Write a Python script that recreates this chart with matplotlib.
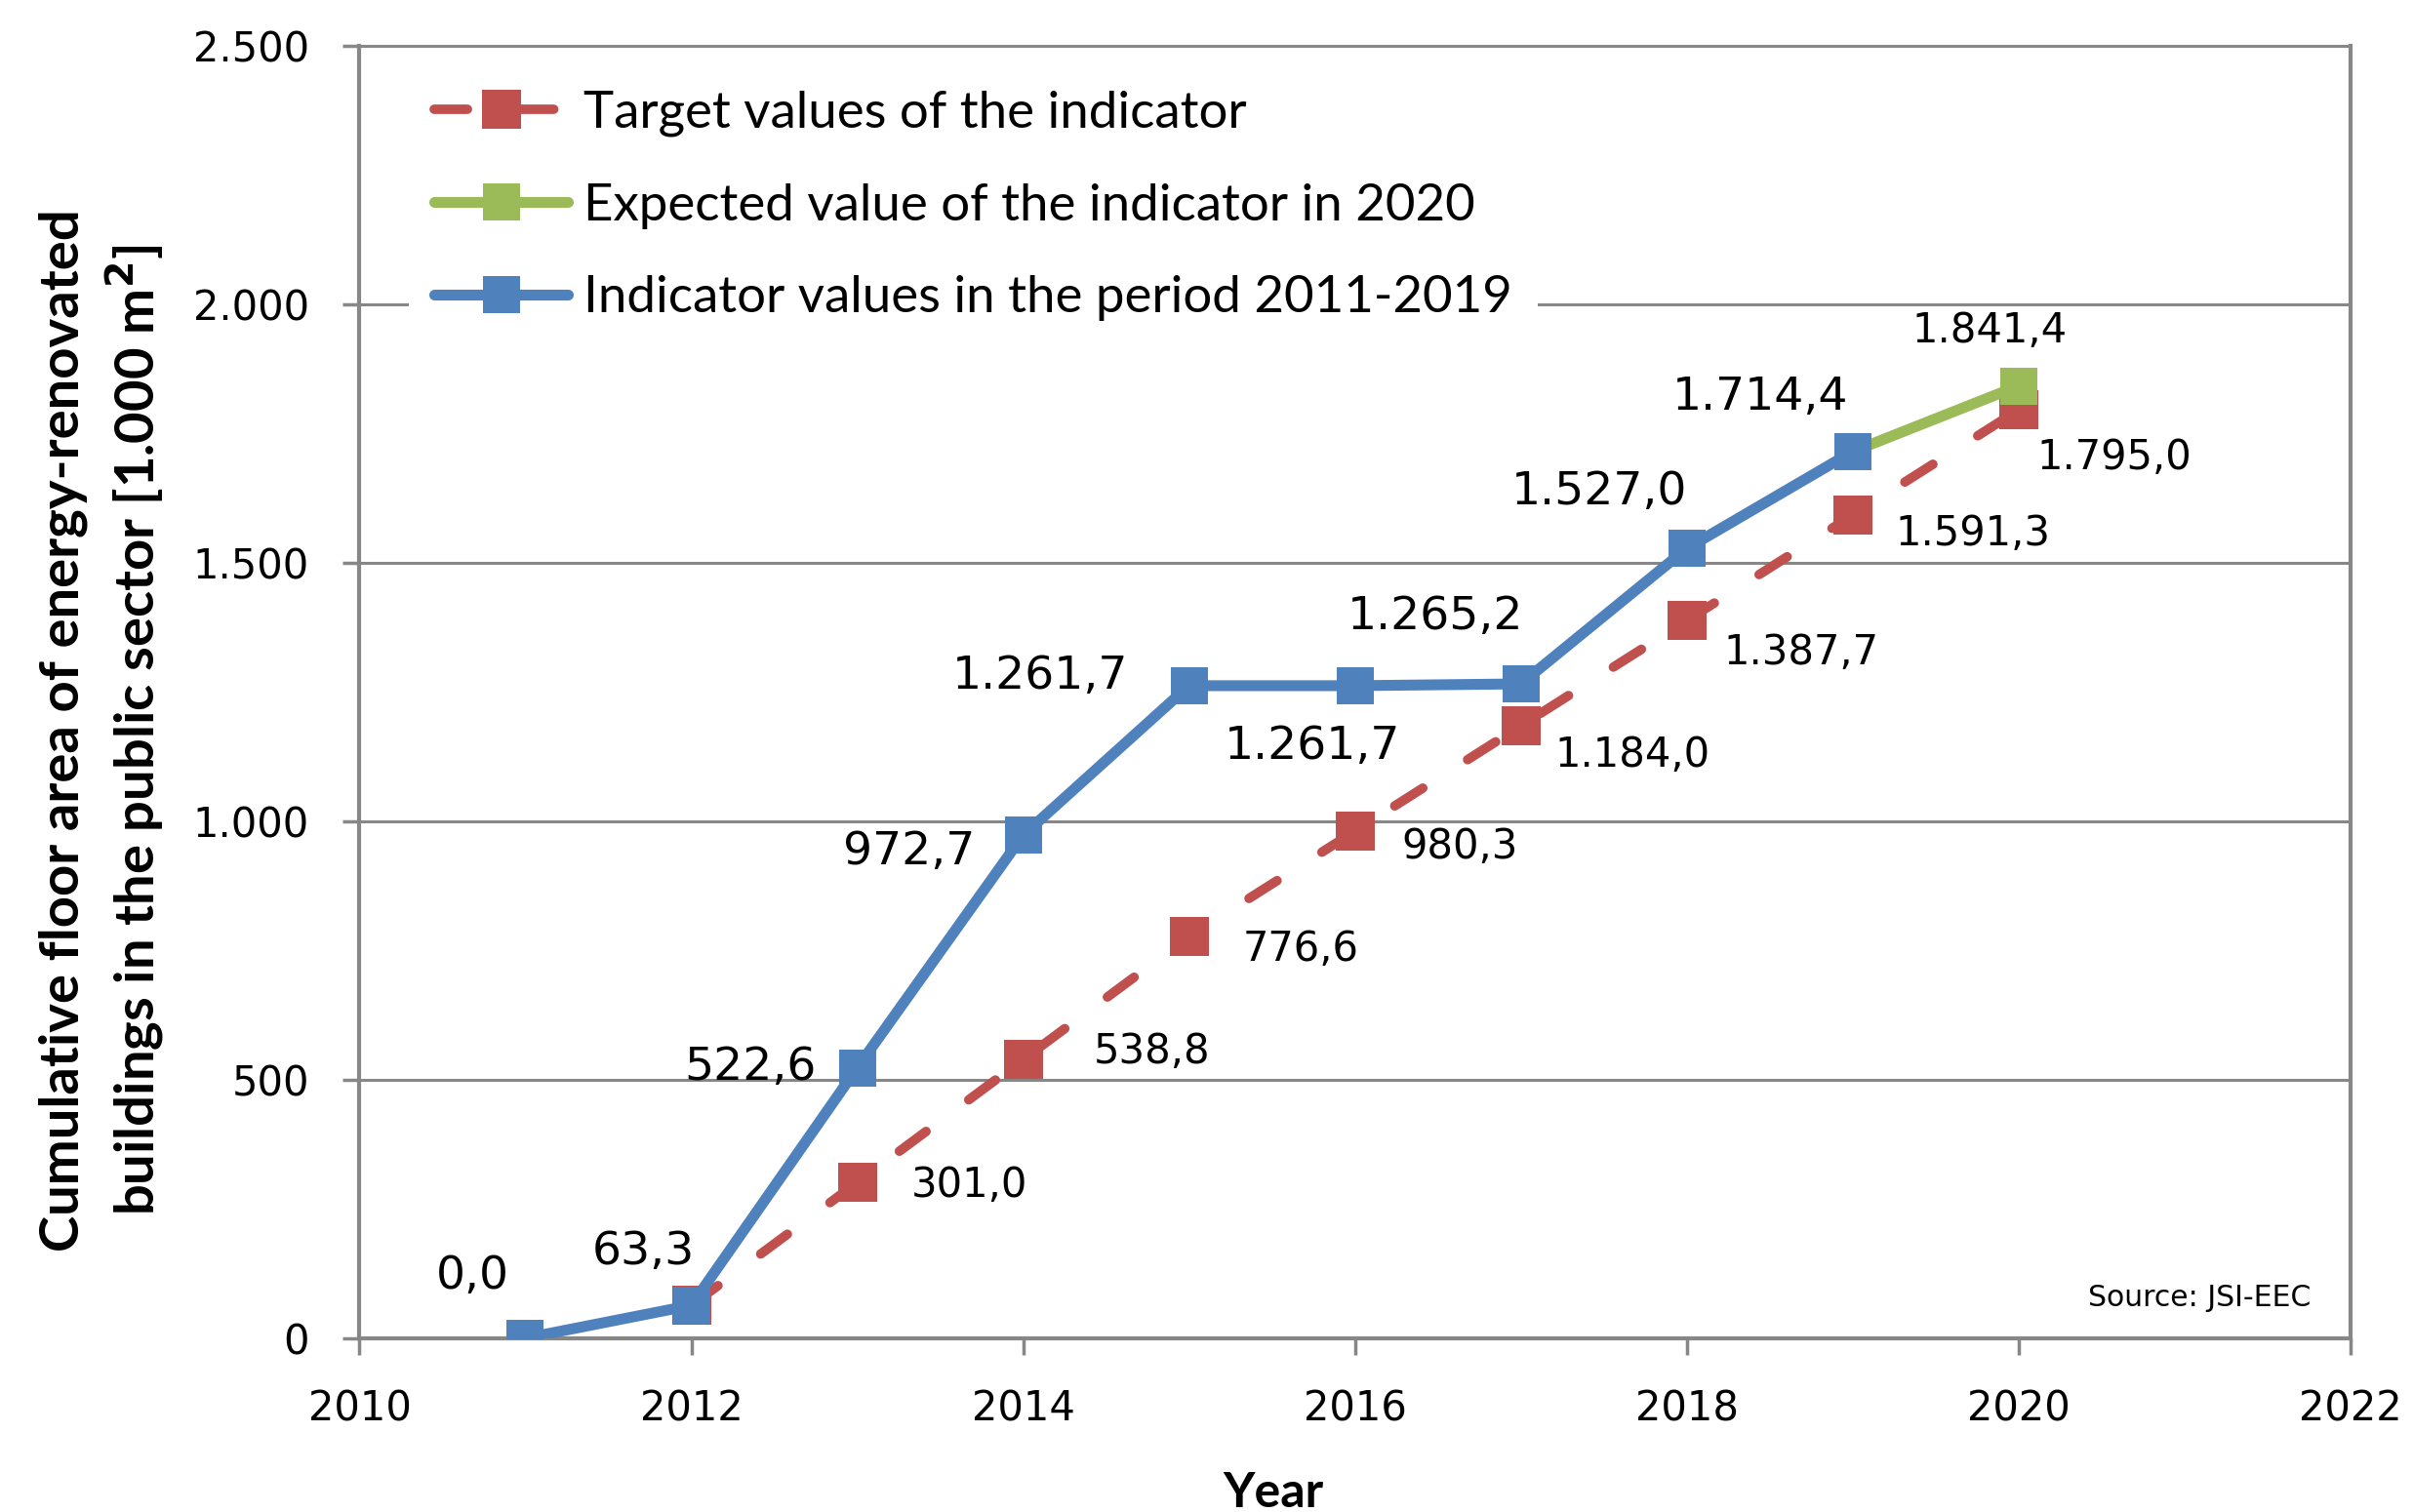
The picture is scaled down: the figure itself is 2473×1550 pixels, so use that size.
import matplotlib
matplotlib.use("Agg")
import matplotlib.pyplot as plt

# ---- data ----
years_actual = [2011, 2012, 2013, 2014, 2015, 2016, 2017, 2018, 2019]
values_actual = [0.0, 63.3, 522.6, 972.7, 1261.7, 1261.7, 1265.2, 1527.0, 1714.4]
years_target = [2012, 2013, 2014, 2015, 2016, 2017, 2018, 2019, 2020]
values_target = [63.3, 301.0, 538.8, 776.6, 980.3, 1184.0, 1387.7, 1591.3, 1795.0]
years_expected = [2019, 2020]
values_expected = [1714.4, 1841.4]

legend_labels = ["Target values of the indicator",
                 "Expected value of the indicator in 2020",
                 "Indicator values in the period 2011-2019"]
x_ticks = [2010, 2012, 2014, 2016, 2018, 2020, 2022]
y_ticks = [0, 500, 1000, 1500, 2000, 2500]

BLUE = "#4F81BD"
RED = "#C0504D"
GREEN = "#9BBB59"
GRID = "#878787"


def eu(v, dec=1):
    s = f"{v:,.{dec}f}"
    return s.replace(",", "X").replace(".", ",").replace("X", ".")


fig = plt.figure(figsize=(24.73, 15.5), dpi=100)
ax = fig.add_axes([0.149, 0.115, 0.825, 0.855])

ax.plot(years_target, values_target, color=RED, lw=7, ls=(0, (3.5, 5.6)),
        dash_capstyle="round", marker="s", ms=29, mew=0, mfc=RED, zorder=3,
        label=legend_labels[0])
ax.plot(years_expected, values_expected, color=GREEN, lw=8, marker="s", ms=27,
        mew=0, mfc=GREEN, zorder=4, label=legend_labels[1], markevery=[1],
        solid_capstyle="round")
ax.plot(years_actual, values_actual, color=BLUE, lw=8, marker="s", ms=27,
        mew=0, mfc=BLUE, zorder=5, label=legend_labels[2],
        solid_capstyle="round")

# data labels
blue_off = [(-54, 63), (-49, 55), (-110, 0), (-117, -17), (-153, 9),
            (-44, -63), (-88, 69), (-90, 58), (-95, 55)]
for x, y, (dx, dy) in zip(years_actual, values_actual, blue_off):
    ax.annotate(eu(y), (x, y), xytext=(dx, dy), textcoords="offset pixels",
                ha="center", va="center", fontsize=34, family="DejaVu Sans",
                zorder=6)
red_off = [None, (115, -3), (132, 8), (115, -13), (107, -16), (114, -30),
           (117, -33), (123, -19), (98, -49)]
for x, y, off in zip(years_target, values_target, red_off):
    if off is None:
        continue
    ax.annotate(eu(y), (x, y), xytext=off, textcoords="offset pixels",
                ha="center", va="center", fontsize=30, family="DejaVu Sans",
                zorder=6)
ax.annotate(eu(values_expected[1]), (years_expected[1], values_expected[1]),
            xytext=(-30, 57), textcoords="offset pixels", ha="center",
            va="center", fontsize=30, family="DejaVu Sans", zorder=6)

ax.set_xlim(2010, 2022)
ax.set_ylim(0, 2500)
ax.set_xticks(x_ticks)
ax.set_yticks(y_ticks)
ax.set_yticklabels([eu(v, 0) if v else "0" for v in y_ticks])
ax.tick_params(axis="both", labelsize=30, color=GRID, width=2.5, length=12,
               pad=25)
for lab in ax.get_xticklabels() + ax.get_yticklabels():
    lab.set_family("DejaVu Sans")
ax.grid(axis="y", color=GRID, lw=2.2)
ax.set_axisbelow(True)
for side in ["left", "bottom", "right"]:
    ax.spines[side].set_color(GRID)
    ax.spines[side].set_linewidth(3)
ax.spines["top"].set_color(GRID)
ax.spines["top"].set_linewidth(2.2)

ax.set_ylabel("Cumulative floor area of energy-renovated\nbuildings in the public sector [1.000 m$^\\mathbf{2}$]",
              fontsize=40.5, fontweight="bold", family="Lato",
              linespacing=1.32)
ax.yaxis.set_label_coords(-0.097, 0.47)
ax.set_xlabel("Year", fontsize=36, fontweight="bold", family="Lato")
ax.xaxis.set_label_coords(0.459, -0.103)

ax.text(0.98, 0.02, "Source: JSI-EEC", transform=ax.transAxes, ha="right",
        va="bottom", fontsize=21.5, family="DejaVu Sans")

leg = ax.legend(loc="upper left", bbox_to_anchor=(0.0116, 1.005), frameon=True,
                facecolor="white", edgecolor="none", framealpha=1,
                prop={"family": "Lato", "size": 38}, handlelength=2.6,
                handletextpad=0.3, labelspacing=0.9, borderpad=0.5,
                markerscale=1.0)
leg.set_zorder(2)

fig.savefig("out.png", dpi=100)
